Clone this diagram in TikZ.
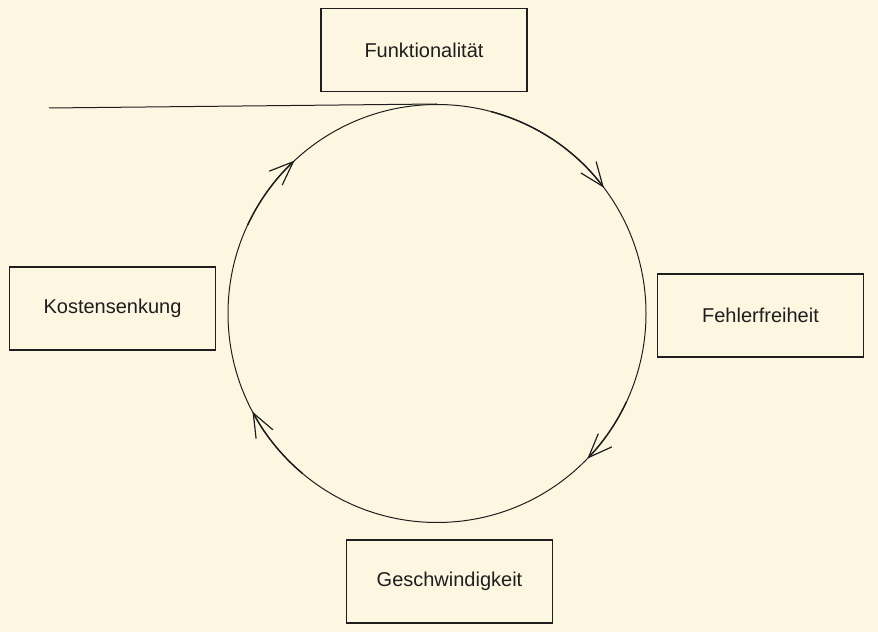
\documentclass[tikz,border=0pt]{standalone}
\usepackage{fontspec}
\setmainfont{Liberation Sans}
\usetikzlibrary{arrows.meta}
\definecolor{bgcol}{HTML}{FDF7E1}
\definecolor{ink}{HTML}{1E1E1E}
\begin{document}
\begin{tikzpicture}[x=1pt,y=1pt,
  box/.style={draw=ink, line width=1.2pt, rectangle, minimum width=206pt, minimum height=83pt, inner sep=0pt, font=\fontsize{20}{24}\selectfont, text=ink},
  cyc/.style={draw=ink, line width=1pt},
  flow/.style={draw=ink, line width=1.4pt, -{Straight Barb[length=24pt,width=19pt,line width=1.2pt]}}]
\fill[bgcol] (0,0) rectangle (878,632);
\useasboundingbox (0,0) rectangle (878,632);
\node[circle, cyc, minimum size=418pt, inner sep=0pt] (c) at (437,318.5) {};
\node[box] (funk) at (424,582) {Funktionalität};
\node[box] (kost) at (112.5,323.5) {Kostensenkung};
\node[box] (fehl) at (760.5,316.5) {Fehlerfreiheit};
\node[box] (gesch) at (449.5,50.5) {Geschwindigkeit};
\coordinate (lstart) at (49,524);
\draw[cyc] (lstart) -- (c.north);
\draw[flow] ([shift={(75:209pt)}]c.center) arc[start angle=75, end angle=37, radius=209pt];
\draw[flow] ([shift={(-25:209pt)}]c.center) arc[start angle=-25, end angle=-44, radius=209pt];
\draw[flow] ([shift={(-130:209pt)}]c.center) arc[start angle=-130, end angle=-152, radius=209pt];
\draw[flow] ([shift={(155:209pt)}]c.center) arc[start angle=155, end angle=133, radius=209pt];
\end{tikzpicture}
\end{document}
